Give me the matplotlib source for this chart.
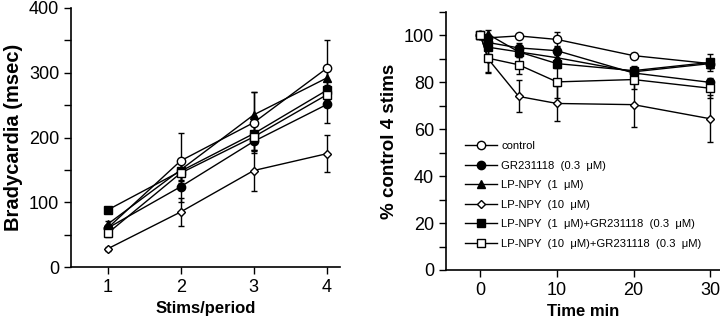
import matplotlib
matplotlib.use('Agg')
import matplotlib.pyplot as plt
from matplotlib.ticker import MultipleLocator

plt.rcParams['font.family'] = ['Liberation Sans', 'DejaVu Sans']

# left panel: bradycardia vs stimulation
stims = [1, 2, 3, 4]
brady = {
    'control': [60, 164, 223, 307],
    'gr': [60, 124, 194, 251],
    'lp1': [66, 150, 235, 292],
    'lp10': [28, 85, 149, 175],
    'lp1_gr': [88, 148, 206, 273],
    'lp10_gr': [52, 145, 201, 266],
}
brady_err = {
    'control': [5, 43, 47, 44],
    'gr': [5, 24, 15, 28],
    'lp1': [5, 15, 35, 15],
    'lp10': [3, 21, 31, 29],
    'lp1_gr': [5, 15, 15, 15],
    'lp10_gr': [5, 15, 20, 15],
}

# right panel: % control of 4 stims vs time
time_min = [0, 1, 5, 10, 20, 30]
pct = {
    'control': [100, 99, 99.8, 98.3, 91.4, 88],
    'gr': [100, 97, 94.7, 93.5, 84, 80],
    'lp1': [100, 100.5, 93, 90.5, 84.5, 88],
    'lp10': [100, 90, 74, 71, 70.5, 64.5],
    'lp1_gr': [100, 95, 93, 88, 85, 88.5],
    'lp10_gr': [100, 90.3, 87.5, 80.2, 81.2, 77.5],
}
pct_err = {
    'control': [0, 1, 1, 3.3, 1, 2],
    'gr': [0, 2, 2, 2, 2, 2],
    'lp1': [0, 2, 2, 2, 2, 2],
    'lp10': [0, 6, 6.8, 7.3, 9.5, 10],
    'lp1_gr': [0, 3, 2, 2, 2, 3.5],
    'lp10_gr': [0, 6, 4, 7, 4, 4],
}

labels = {
    'control': 'control',
    'gr': 'GR231118  (0.3  \u03bcM)',
    'lp1': 'LP-NPY  (1  \u03bcM)',
    'lp10': 'LP-NPY  (10  \u03bcM)',
    'lp1_gr': 'LP-NPY  (1  \u03bcM)+GR231118  (0.3  \u03bcM)',
    'lp10_gr': 'LP-NPY  (10  \u03bcM)+GR231118  (0.3  \u03bcM)',
}
styles = {
    'control': ('o', 'white', 6),
    'gr': ('o', 'black', 6),
    'lp1': ('^', 'black', 6),
    'lp10': ('D', 'white', 4.5),
    'lp1_gr': ('s', 'black', 6),
    'lp10_gr': ('s', 'white', 6),
}

fig = plt.figure(figsize=(7.2, 3.24), dpi=100)
ax1 = fig.add_axes([71 / 720, 57 / 324, 269 / 720, 259 / 324])
ax2 = fig.add_axes([446 / 720, 54 / 324, 274 / 720, 258 / 324])


def draw(ax, x, data, err):
    # error bars first, underneath every marker
    for key in data:
        ax.errorbar(x, data[key], yerr=err[key], fmt='none', ecolor='black',
                    elinewidth=1.0, capsize=2, capthick=1.0, zorder=1)
    for i, key in enumerate(data):
        m, fc, ms = styles[key]
        ax.plot(x, data[key], color='black', lw=1.0, marker=m,
                markerfacecolor=fc, markeredgecolor='black',
                markeredgewidth=1.0, ms=ms, label=labels[key], zorder=2 + i)


draw(ax1, stims, brady, brady_err)
draw(ax2, time_min, pct, pct_err)

for ax in (ax1, ax2):
    ax.spines['top'].set_visible(False)
    ax.spines['right'].set_visible(False)
    ax.spines['left'].set_linewidth(1.2)
    ax.spines['bottom'].set_linewidth(1.2)
    ax.tick_params(direction='out', length=5, width=1.0, labelsize=13)
    ax.tick_params(which='minor', direction='out', length=5, width=1.0)

ax1.set_xlim(0.5, 4.18)
ax1.set_ylim(0, 400)
ax1.set_xticks(stims)
ax1.yaxis.set_major_locator(MultipleLocator(100))
ax1.yaxis.set_minor_locator(MultipleLocator(50))
ax1.set_xlabel('Stims/period', fontsize=12, fontweight='bold')
ax1.set_ylabel('Bradycardia (msec)', fontsize=14.5, fontweight='bold')

ax2.set_xlim(-4.5, 31.3)
ax2.set_ylim(0, 110)
ax2.set_xticks([0, 10, 20, 30])
ax2.set_yticks([0, 20, 40, 60, 80, 100])
ax2.yaxis.set_minor_locator(MultipleLocator(10))
ax2.set_xlabel('Time min', fontsize=12, fontweight='bold')
ax2.set_ylabel('% control 4 stims', fontsize=13.5, fontweight='bold')

ax2.legend(loc='upper left', bbox_to_anchor=(0.07, 0.50),
           frameon=False, fontsize=8.1, handlelength=2.8, handletextpad=0.4,
           labelspacing=0.85, borderpad=0, borderaxespad=0)

fig.savefig('out.png', dpi=100)
